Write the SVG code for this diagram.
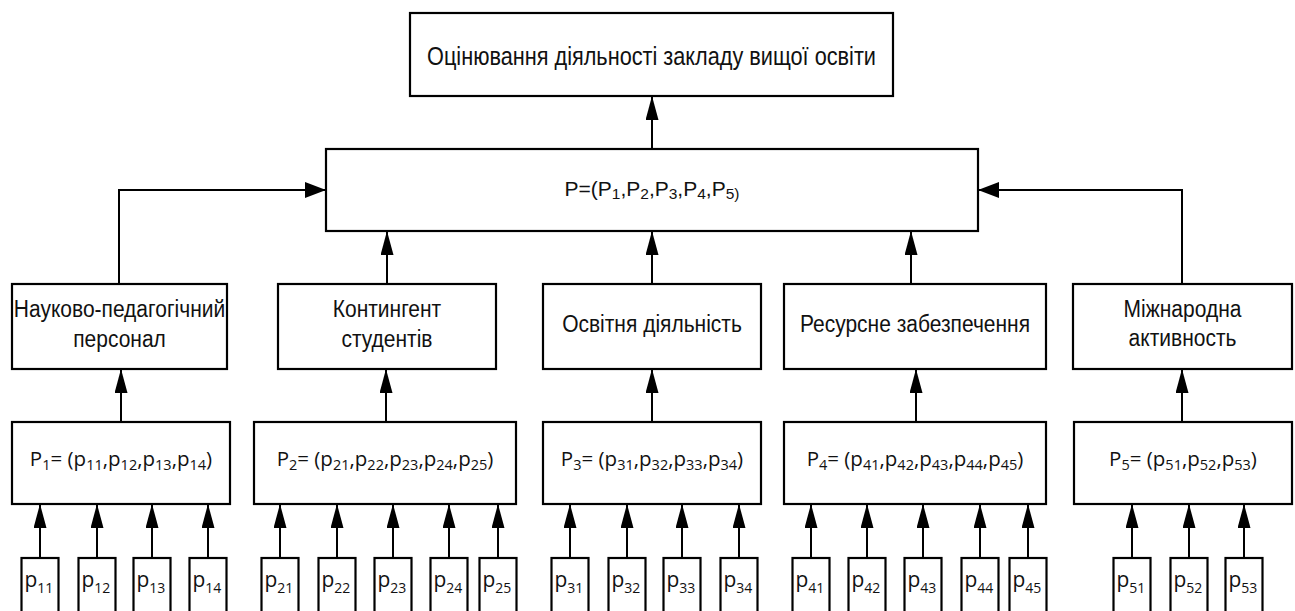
<svg xmlns="http://www.w3.org/2000/svg" width="1295" height="611" viewBox="0 0 1295 611">
  <defs>
    <style>
      .box { fill: #fff; stroke: #000; stroke-width: 2.2; }
      .wire { fill: none; stroke: #000; stroke-width: 2; }
      .v { marker-end: url(#arrow-v); }
      .h { marker-end: url(#arrow-h); }
      .t { font-family: "Liberation Sans", Arial, sans-serif; font-size: 21px; fill: #111; text-anchor: middle; }
      .title { font-size: 21.7px; }
      .f { font-family: "Liberation Sans", Arial, sans-serif; font-size: 21px; fill: #111; text-anchor: middle; }
      .f .s { font-size: 15.5px; }
      .c { font-family: "Open Sans", "Noto Sans", sans-serif; font-size: 20.5px; fill: #111; text-anchor: middle; }
      .c .s { font-size: 14.5px; }
      .q { font-family: "Open Sans", "Noto Sans", sans-serif; font-size: 21px; fill: #111; }
      .q .s { font-size: 14px; }
    </style>
    <marker id="arrow-v" markerUnits="userSpaceOnUse" markerWidth="24" markerHeight="13" refX="24" refY="6.5" orient="auto">
      <path d="M0,0 L24,6.5 L0,13 Z" fill="#000"/>
    </marker>
    <marker id="arrow-h" markerUnits="userSpaceOnUse" markerWidth="21" markerHeight="16" refX="21" refY="8" orient="auto">
      <path d="M0,0 L21,8 L0,16 Z" fill="#000"/>
    </marker>
  </defs>

  <rect width="1295" height="611" fill="#fff"/>

  <!-- connectors -->
  <g id="connectors">
    <path class="wire v" d="M652,149 V96"/>
    <path class="wire h" d="M119,284 V190 H326"/>
    <path class="wire h" d="M1182,284 V190 H978"/>
    <path class="wire v" d="M387,284 V231"/>
    <path class="wire v" d="M652,284 V231"/>
    <path class="wire v" d="M911,284 V231"/>

    <path class="wire v" d="M121,422 V369"/>
    <path class="wire v" d="M386,422 V369"/>
    <path class="wire v" d="M652,422 V369"/>
    <path class="wire v" d="M916,422 V369"/>
    <path class="wire v" d="M1182,422 V369"/>

    <path class="wire v" d="M40,558 V504"/>
    <path class="wire v" d="M97,558 V504"/>
    <path class="wire v" d="M152,558 V504"/>
    <path class="wire v" d="M208,558 V504"/>
    <path class="wire v" d="M280,558 V504"/>
    <path class="wire v" d="M337,558 V504"/>
    <path class="wire v" d="M393,558 V504"/>
    <path class="wire v" d="M449,558 V504"/>
    <path class="wire v" d="M498,558 V504"/>
    <path class="wire v" d="M570,558 V504"/>
    <path class="wire v" d="M627,558 V504"/>
    <path class="wire v" d="M682,558 V504"/>
    <path class="wire v" d="M739,558 V504"/>
    <path class="wire v" d="M811,558 V504"/>
    <path class="wire v" d="M867,558 V504"/>
    <path class="wire v" d="M923,558 V504"/>
    <path class="wire v" d="M980,558 V504"/>
    <path class="wire v" d="M1028,558 V504"/>
    <path class="wire v" d="M1132,558 V504"/>
    <path class="wire v" d="M1189,558 V504"/>
    <path class="wire v" d="M1244,558 V504"/>
  </g>

  <!-- top goal -->
  <g id="goal">
    <rect class="box" x="410" y="13" width="483" height="83"/>
    <text class="t title" transform="translate(651.5,65) scale(1,1.15)">Оцінювання діяльності закладу вищої освіти</text>
  </g>

  <!-- aggregate vector -->
  <g id="aggregate">
    <rect class="box" x="326" y="149" width="652" height="82"/>
    <text class="f" x="652" y="196">P=(P<tspan class="s" dy="3">1</tspan><tspan dy="-3">,P</tspan><tspan class="s" dy="3">2</tspan><tspan dy="-3">,P</tspan><tspan class="s" dy="3">3</tspan><tspan dy="-3">,P</tspan><tspan class="s" dy="3">4</tspan><tspan dy="-3">,P</tspan><tspan class="s" dy="3">5)</tspan></text>
  </g>

  <!-- criteria -->
  <g id="crit-1">
    <rect class="box" x="12" y="284" width="215" height="85"/>
    <text class="t" transform="translate(119.5,317) scale(1,1.15)">Науково-педагогічний</text>
    <text class="t" transform="translate(119.5,347) scale(1,1.15)">персонал</text>
  </g>
  <g id="crit-2">
    <rect class="box" x="278" y="284" width="218" height="85"/>
    <text class="t" transform="translate(387,317) scale(1,1.15)">Контингент</text>
    <text class="t" transform="translate(387,347) scale(1,1.15)">студентів</text>
  </g>
  <g id="crit-3">
    <rect class="box" x="543" y="284" width="218" height="85"/>
    <text class="t" transform="translate(652,332) scale(1,1.15)">Освітня діяльність</text>
  </g>
  <g id="crit-4">
    <rect class="box" x="784" y="284" width="262" height="85"/>
    <text class="t" transform="translate(915,332) scale(1,1.15)">Ресурсне забезпечення</text>
  </g>
  <g id="crit-5">
    <rect class="box" x="1073" y="284" width="219" height="85"/>
    <text class="t" transform="translate(1182.5,317) scale(1,1.15)">Міжнародна</text>
    <text class="t" transform="translate(1182.5,346) scale(1,1.15)">активность</text>
  </g>

  <!-- indicator vectors -->
  <g id="vec-1">
    <rect class="box" x="12" y="422" width="218" height="82"/>
    <text class="c" x="121" y="466">P<tspan class="s" dy="4">1</tspan><tspan dy="-4">= (p</tspan><tspan class="s" dy="4">11</tspan><tspan dy="-4">,p</tspan><tspan class="s" dy="4">12</tspan><tspan dy="-4">,p</tspan><tspan class="s" dy="4">13</tspan><tspan dy="-4">,p</tspan><tspan class="s" dy="4">14</tspan><tspan dy="-4">)</tspan></text>
  </g>
  <g id="vec-2">
    <rect class="box" x="254" y="422" width="262" height="82"/>
    <text class="c" x="385" y="466">P<tspan class="s" dy="4">2</tspan><tspan dy="-4">= (p</tspan><tspan class="s" dy="4">21</tspan><tspan dy="-4">,p</tspan><tspan class="s" dy="4">22</tspan><tspan dy="-4">,p</tspan><tspan class="s" dy="4">23</tspan><tspan dy="-4">,p</tspan><tspan class="s" dy="4">24</tspan><tspan dy="-4">,p</tspan><tspan class="s" dy="4">25</tspan><tspan dy="-4">)</tspan></text>
  </g>
  <g id="vec-3">
    <rect class="box" x="543" y="422" width="218" height="82"/>
    <text class="c" x="652" y="466">P<tspan class="s" dy="4">3</tspan><tspan dy="-4">= (p</tspan><tspan class="s" dy="4">31</tspan><tspan dy="-4">,p</tspan><tspan class="s" dy="4">32</tspan><tspan dy="-4">,p</tspan><tspan class="s" dy="4">33</tspan><tspan dy="-4">,p</tspan><tspan class="s" dy="4">34</tspan><tspan dy="-4">)</tspan></text>
  </g>
  <g id="vec-4">
    <rect class="box" x="784" y="422" width="262" height="82"/>
    <text class="c" x="915" y="466">P<tspan class="s" dy="4">4</tspan><tspan dy="-4">= (p</tspan><tspan class="s" dy="4">41</tspan><tspan dy="-4">,p</tspan><tspan class="s" dy="4">42</tspan><tspan dy="-4">,p</tspan><tspan class="s" dy="4">43</tspan><tspan dy="-4">,p</tspan><tspan class="s" dy="4">44</tspan><tspan dy="-4">,p</tspan><tspan class="s" dy="4">45</tspan><tspan dy="-4">)</tspan></text>
  </g>
  <g id="vec-5">
    <rect class="box" x="1074" y="422" width="218" height="82"/>
    <text class="c" x="1183" y="466">P<tspan class="s" dy="4">5</tspan><tspan dy="-4">= (p</tspan><tspan class="s" dy="4">51</tspan><tspan dy="-4">,p</tspan><tspan class="s" dy="4">52</tspan><tspan dy="-4">,p</tspan><tspan class="s" dy="4">53</tspan><tspan dy="-4">)</tspan></text>
  </g>

  <!-- single indicators -->
  <g id="p11"><rect class="box" x="21.5" y="558" width="37" height="62"/><text class="q" x="24.5" y="587">p<tspan class="s" dy="6">11</tspan></text></g>
  <g id="p12"><rect class="box" x="78.5" y="558" width="37" height="62"/><text class="q" x="81.5" y="587">p<tspan class="s" dy="6">12</tspan></text></g>
  <g id="p13"><rect class="box" x="133.5" y="558" width="37" height="62"/><text class="q" x="136.5" y="587">p<tspan class="s" dy="6">13</tspan></text></g>
  <g id="p14"><rect class="box" x="189.5" y="558" width="37" height="62"/><text class="q" x="192.5" y="587">p<tspan class="s" dy="6">14</tspan></text></g>

  <g id="p21"><rect class="box" x="261.5" y="558" width="37" height="62"/><text class="q" x="264.5" y="587">p<tspan class="s" dy="6">21</tspan></text></g>
  <g id="p22"><rect class="box" x="318.5" y="558" width="37" height="62"/><text class="q" x="321.5" y="587">p<tspan class="s" dy="6">22</tspan></text></g>
  <g id="p23"><rect class="box" x="374.5" y="558" width="37" height="62"/><text class="q" x="377.5" y="587">p<tspan class="s" dy="6">23</tspan></text></g>
  <g id="p24"><rect class="box" x="430.5" y="558" width="37" height="62"/><text class="q" x="433.5" y="587">p<tspan class="s" dy="6">24</tspan></text></g>
  <g id="p25"><rect class="box" x="479.5" y="558" width="37" height="62"/><text class="q" x="482.5" y="587">p<tspan class="s" dy="6">25</tspan></text></g>

  <g id="p31"><rect class="box" x="551.5" y="558" width="37" height="62"/><text class="q" x="554.5" y="587">p<tspan class="s" dy="6">31</tspan></text></g>
  <g id="p32"><rect class="box" x="608.5" y="558" width="37" height="62"/><text class="q" x="611.5" y="587">p<tspan class="s" dy="6">32</tspan></text></g>
  <g id="p33"><rect class="box" x="663.5" y="558" width="37" height="62"/><text class="q" x="666.5" y="587">p<tspan class="s" dy="6">33</tspan></text></g>
  <g id="p34"><rect class="box" x="720.5" y="558" width="37" height="62"/><text class="q" x="723.5" y="587">p<tspan class="s" dy="6">34</tspan></text></g>

  <g id="p41"><rect class="box" x="792.5" y="558" width="37" height="62"/><text class="q" x="795.5" y="587">p<tspan class="s" dy="6">41</tspan></text></g>
  <g id="p42"><rect class="box" x="848.5" y="558" width="37" height="62"/><text class="q" x="851.5" y="587">p<tspan class="s" dy="6">42</tspan></text></g>
  <g id="p43"><rect class="box" x="904.5" y="558" width="37" height="62"/><text class="q" x="907.5" y="587">p<tspan class="s" dy="6">43</tspan></text></g>
  <g id="p44"><rect class="box" x="961.5" y="558" width="37" height="62"/><text class="q" x="964.5" y="587">p<tspan class="s" dy="6">44</tspan></text></g>
  <g id="p45"><rect class="box" x="1009.5" y="558" width="37" height="62"/><text class="q" x="1012.5" y="587">p<tspan class="s" dy="6">45</tspan></text></g>

  <g id="p51"><rect class="box" x="1113.5" y="558" width="37" height="62"/><text class="q" x="1116.5" y="587">p<tspan class="s" dy="6">51</tspan></text></g>
  <g id="p52"><rect class="box" x="1170.5" y="558" width="37" height="62"/><text class="q" x="1173.5" y="587">p<tspan class="s" dy="6">52</tspan></text></g>
  <g id="p53"><rect class="box" x="1225.5" y="558" width="37" height="62"/><text class="q" x="1228.5" y="587">p<tspan class="s" dy="6">53</tspan></text></g>
</svg>
